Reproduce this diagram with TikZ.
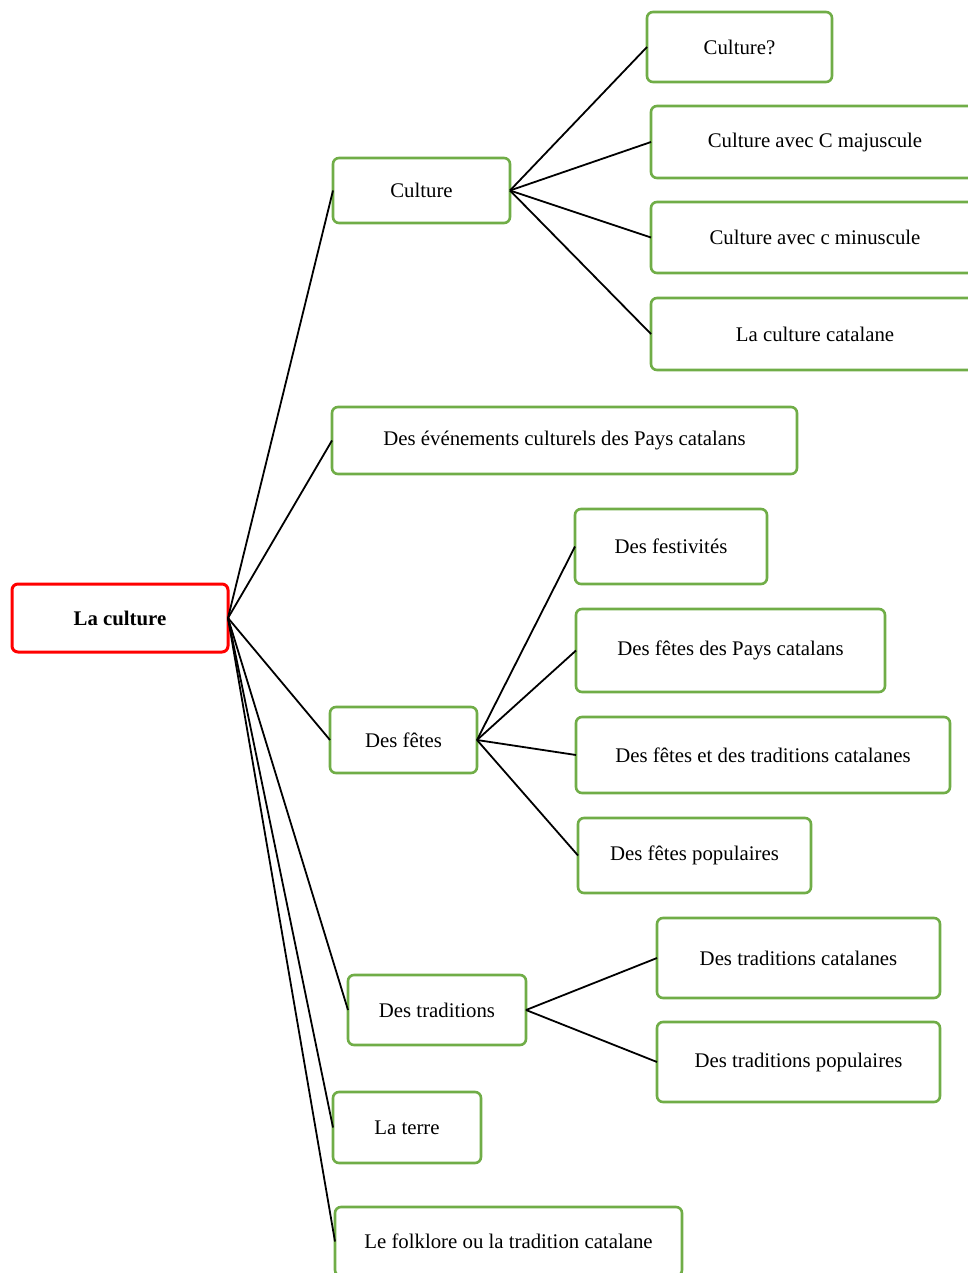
\documentclass[tikz,border=0pt]{standalone}
\usepackage{fontspec}
\setmainfont{Liberation Serif}
\definecolor{boxgreen}{RGB}{112,173,71}
\begin{document}
\begin{tikzpicture}[x=1pt,y=-1pt,
  gbox/.style={draw=boxgreen, line width=2.6pt, rounded corners=6pt, fill=white,
    inner sep=0pt, outer sep=0pt, align=center, font=\fontsize{20.8}{24}\selectfont},
  rbox/.style={gbox, draw=red, line width=3pt, font=\fontsize{20.8}{24}\selectfont\bfseries},
  link/.style={draw=black, line width=1.8pt}]
\useasboundingbox (0,0) rectangle (968,1273);
\clip (0,0) rectangle (968,1273);
% nodes
\node[rbox, minimum width=216, minimum height=68] (root) at (120,618) {La culture};
\node[gbox, minimum width=177, minimum height=65] (cult) at (421.5,190.5) {Culture};
\node[gbox, minimum width=185, minimum height=70] (c1) at (739.5,47) {Culture?};
\node[gbox, minimum width=328, minimum height=72] (c2) at (815,142) {Culture avec C majuscule};
\node[gbox, minimum width=328, minimum height=71] (c3) at (815,237.5) {Culture avec c minuscule};
\node[gbox, minimum width=328, minimum height=72] (c4) at (815,334) {La culture catalane};
\node[gbox, minimum width=465, minimum height=67] (even) at (564.5,440.5) {Des événements culturels des Pays catalans};
\node[gbox, minimum width=147, minimum height=66] (fetes) at (403.5,740) {Des fêtes};
\node[gbox, minimum width=192, minimum height=75] (f1) at (671,546.5) {Des festivités};
\node[gbox, minimum width=309, minimum height=83] (f2) at (730.5,650.5) {Des fêtes des Pays catalans};
\node[gbox, minimum width=374, minimum height=76] (f3) at (763,755) {Des fêtes et des traditions catalanes};
\node[gbox, minimum width=233, minimum height=75] (f4) at (694.5,855.5) {Des fêtes populaires};
\node[gbox, minimum width=178, minimum height=70] (trad) at (437,1010) {Des traditions};
\node[gbox, minimum width=283, minimum height=80] (t1) at (798.5,958) {Des traditions catalanes};
\node[gbox, minimum width=283, minimum height=80] (t2) at (798.5,1062) {Des traditions populaires};
\node[gbox, minimum width=148, minimum height=71] (terre) at (407,1127.5) {La terre};
\node[gbox, minimum width=347, minimum height=69] (folk) at (508.5,1241.5) {Le folklore ou la tradition catalane};
% connectors
\foreach \c in {cult,even,fetes,trad,terre,folk} \draw[link] (root.east) -- (\c.west);
\foreach \c in {c1,c2,c3,c4} \draw[link] (cult.east) -- (\c.west);
\foreach \c in {f1,f2,f3,f4} \draw[link] (fetes.east) -- (\c.west);
\foreach \c in {t1,t2} \draw[link] (trad.east) -- (\c.west);
\end{tikzpicture}
\end{document}
